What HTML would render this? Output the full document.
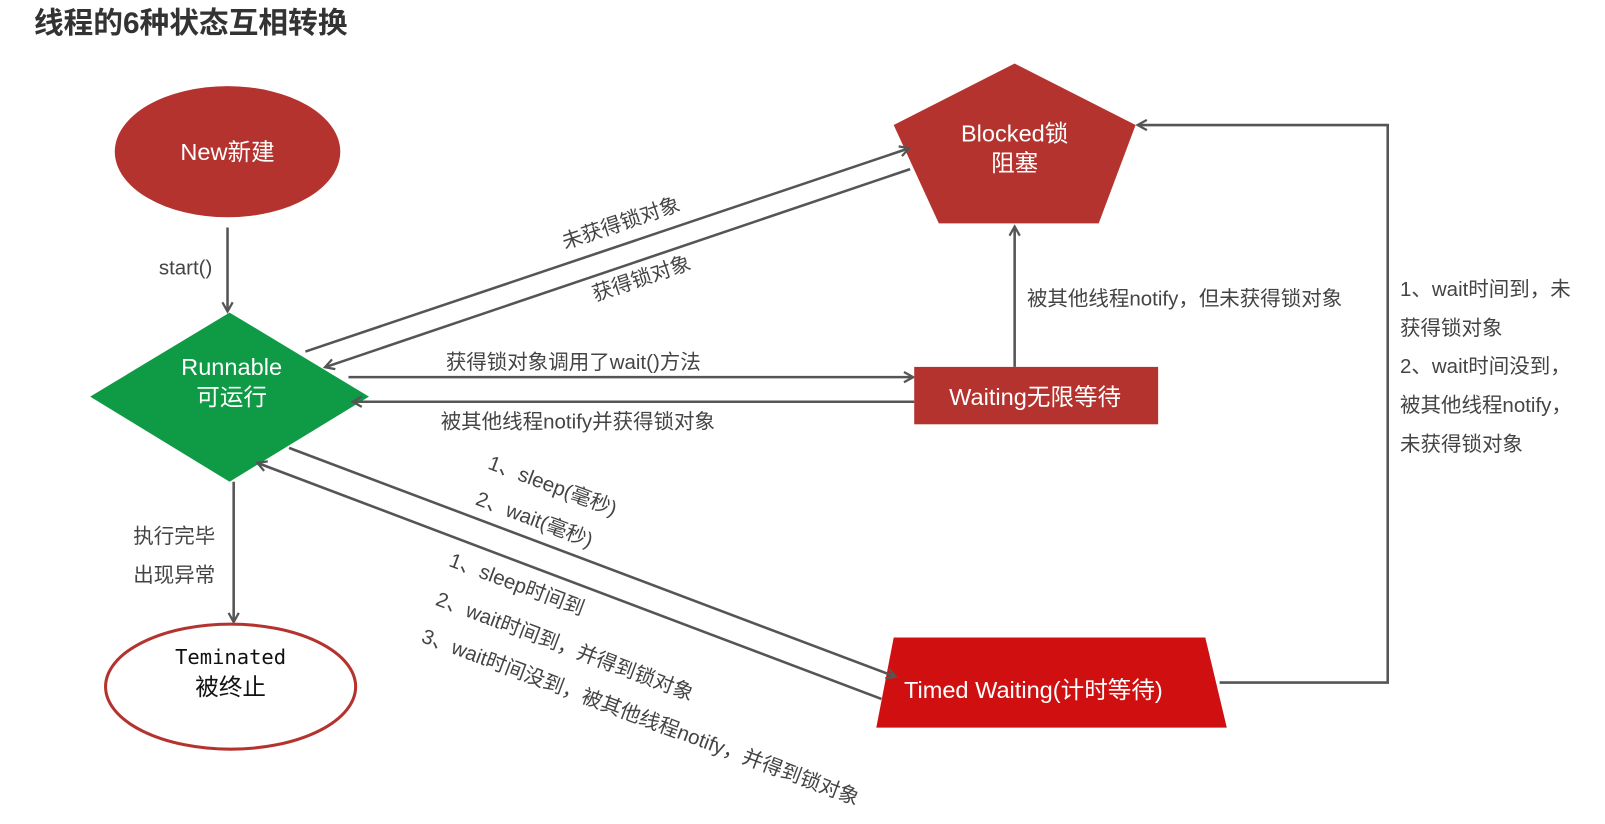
<!DOCTYPE html>
<html><head><meta charset="utf-8"><style>
html,body{margin:0;padding:0;background:#fff;}
svg{display:block;}
text{font-family:"Liberation Sans","Noto Sans CJK SC",sans-serif;}
.l{fill:#444;font-size:20px;}
.w{fill:#fff;font-size:23px;}
</style></head><body>
<svg width="1605" height="824" viewBox="0 0 1566 804" preserveAspectRatio="none" xmlns="http://www.w3.org/2000/svg">
<defs>
<marker id="a" markerWidth="12" markerHeight="12" refX="9" refY="6" orient="auto" markerUnits="userSpaceOnUse">
<path d="M1,1 L10,6 L1,11" fill="none" stroke="#555" stroke-width="2.2"/>
</marker>
</defs>
<text x="33" y="32" font-size="29" font-weight="bold" fill="#333">线程的6种状态互相转换</text>

<ellipse cx="222" cy="148" rx="110" ry="64" fill="#b5332e"/>
<text x="222" y="156" text-anchor="middle" class="w">New新建</text>
<line x1="222" y1="222" x2="222" y2="303" stroke="#555" stroke-width="2.5" marker-end="url(#a)"/>
<text x="155" y="268" class="l" font-size="18">start()</text>

<polygon points="224,305 360,387 224,470 88,387" fill="#0f9a45"/>
<text x="226" y="366" text-anchor="middle" class="w">Runnable</text>
<text x="226" y="395" text-anchor="middle" class="w">可运行</text>

<line x1="228" y1="470" x2="228" y2="606" stroke="#555" stroke-width="2.5" marker-end="url(#a)"/>
<text x="130" y="530" class="l">执行完毕</text>
<text x="130" y="568" class="l">出现异常</text>

<ellipse cx="225" cy="670" rx="122" ry="61" fill="#fff" stroke="#b5332e" stroke-width="3"/>
<text x="225" y="648" text-anchor="middle" font-size="20" fill="#111" style="font-family:'DejaVu Sans Mono','Liberation Mono',monospace">Teminated</text>
<text x="225" y="678" text-anchor="middle" font-size="23" fill="#111">被终止</text>

<polygon points="990,62 1108,122 1072,218 916,218 872,122" fill="#b5332e"/>
<text x="990" y="138" text-anchor="middle" class="w" font-size="21">Blocked锁</text>
<text x="990" y="167" text-anchor="middle" class="w" font-size="21">阻塞</text>

<line x1="298" y1="343" x2="886" y2="145" stroke="#555" stroke-width="2.5" marker-end="url(#a)"/>
<text transform="translate(608,224) rotate(-18.6)" text-anchor="middle" class="l">未获得锁对象</text>
<line x1="888" y1="165" x2="318" y2="358" stroke="#555" stroke-width="2.5" marker-end="url(#a)"/>
<text transform="translate(628,278) rotate(-18.6)" text-anchor="middle" class="l">获得锁对象</text>

<rect x="892" y="358" width="238" height="56" fill="#b5332e"/>
<text x="1010" y="395" text-anchor="middle" class="w" font-size="22">Waiting无限等待</text>

<line x1="340" y1="368" x2="890" y2="368" stroke="#555" stroke-width="2.5" marker-end="url(#a)"/>
<text x="435" y="360" class="l">获得锁对象调用了wait()方法</text>
<line x1="892" y1="392" x2="345" y2="392" stroke="#555" stroke-width="2.5" marker-end="url(#a)"/>
<text x="430" y="418" class="l">被其他线程notify并获得锁对象</text>
<line x1="990" y1="358" x2="990" y2="222" stroke="#555" stroke-width="2.5" marker-end="url(#a)"/>
<text x="1002" y="298" class="l">被其他线程notify，但未获得锁对象</text>

<polygon points="872,622 1176,622 1197,710 855,710" fill="#d01010"/>
<text x="882" y="681" class="w" font-size="21">Timed Waiting(计时等待)</text>

<line x1="282" y1="437" x2="873" y2="660" stroke="#555" stroke-width="2.5" marker-end="url(#a)"/>
<text transform="translate(475,457) rotate(20.6)" class="l">1、sleep(毫秒)</text>
<text transform="translate(463,492) rotate(20.6)" class="l">2、wait(毫秒)</text>
<line x1="860" y1="682" x2="252" y2="452" stroke="#555" stroke-width="2.5" marker-end="url(#a)"/>
<text transform="translate(437,552) rotate(20.6)" class="l">1、sleep时间到</text>
<text transform="translate(424,590) rotate(20.6)" class="l">2、wait时间到，并得到锁对象</text>
<text transform="translate(410,626) rotate(20.6)" class="l">3、wait时间没到，被其他线程notify，并得到锁对象</text>

<polyline points="1190,666 1354,666 1354,122 1111,122" fill="none" stroke="#555" stroke-width="2.5" marker-end="url(#a)"/>
<text x="1366" y="289" class="l" font-size="19">1、wait时间到，未</text>
<text x="1366" y="327" class="l" font-size="19">获得锁对象</text>
<text x="1366" y="364" class="l" font-size="19">2、wait时间没到，</text>
<text x="1366" y="402" class="l" font-size="19">被其他线程notify，</text>
<text x="1366" y="440" class="l" font-size="19">未获得锁对象</text>
</svg>
</body></html>
